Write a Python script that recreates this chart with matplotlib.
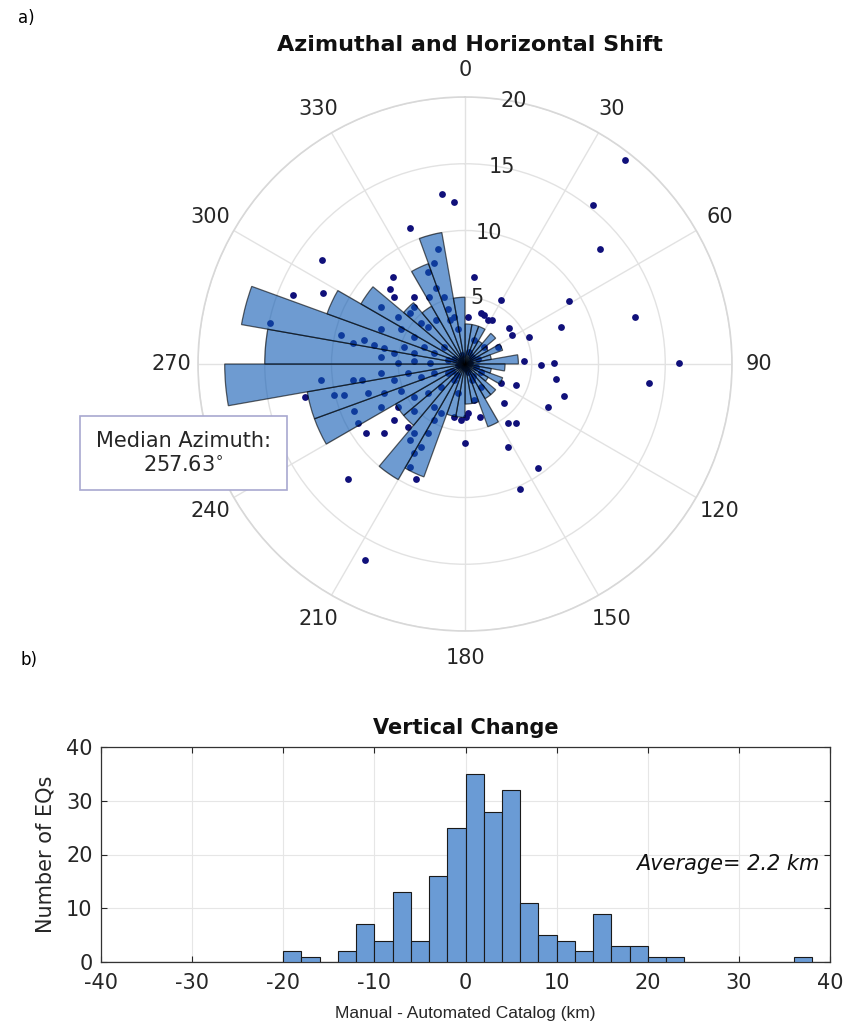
import numpy as np
import matplotlib
matplotlib.use("Agg")
import matplotlib.pyplot as plt
from matplotlib.patches import Rectangle

plt.rcParams['font.family'] = ['DejaVu Sans']
plt.rcParams['axes.unicode_minus'] = False

# ---------------- data ----------------
# rose histogram: azimuth bins (deg, clockwise from north), 10 deg wide
rose_bin_start = list(range(0, 360, 10))
rose_counts = [3, 3, 3, 2, 3, 2, 3, 2, 4, 3,
               2, 3, 2, 3, 3, 5, 3, 3, 4, 4,
               9, 10, 6, 6, 12, 12, 18, 15, 17, 11,
               9, 6, 5, 8, 10, 5]

# horizontal shift of each event (km): east and north components
east_km = [12.0, 9.6, 10.1, 7.8, 7.2, 12.7, 16.0, 13.8, 7.4, 2.7, 1.4, 2.0, 3.3, 3.5, 4.8,
           4.4, 5.7, 6.7, 6.8, 2.7, 3.8, 2.9, 6.2, 3.2, 3.8, 1.1, 0.1, -0.8, 3.2, 0.0,
           5.5, 4.1, -7.4, -6.1, -8.8, -3.7, -7.5, -1.7, -0.8, -4.1, -10.7, -5.4, -5.6, -12.9, -10.6,
           0.7, -3.8, -3.8, -14.6, -12.0, -3.8,
           -2.0, -2.3, -2.8, -2.2, -1.6, -1.3, -2.7, -1.1, -5.3, -6.3, -5.0, -4.1, -3.3, -6.3, -4.8,
           -3.8, -2.8, -2.2, -0.8, -0.5, -9.3, -8.4, -7.6, -6.8, -6.1, -5.3, -4.6, -3.8, -3.1, -2.3,
           -1.6, -6.3, -5.0, -3.8, -2.6, -1.3, -10.8, -8.4, -7.7, -6.3, -5.3, -4.3, -3.3, -2.3, -1.3,
           -9.8, -9.1, -7.3, -6.1, -4.8, -3.8, -2.8, -1.8, -8.3, -6.3, -5.0, -3.8, -2.3, -8.0, -5.3,
           -4.3, -4.1, -3.8, -4.1, -2.8, -2.3, -1.8, -3.3, 0.2, 1.2, 1.7, 0.7, 1.4, 2.5, 0.5,
           1.2, 0.7, 0.2, -0.3, -0.5, -0.8, -0.1,
           -0.3, 0.4, 0.1, 0.5, -0.5, 0.2, -0.2, 0.8, -0.8, 0.3, 1.0, -1.0, 0.6, -0.6, 1.2]
north_km = [15.3, 11.9, 8.6, 4.7, 2.8, 3.5, 0.1, -1.4, -2.4, 4.8, 3.7, 3.3, 2.7, 2.2, 2.0,
            0.2, -0.1, 0.1, -1.1, -1.4, -1.6, -2.9, -3.2, -4.4, -4.4, -4.0, -4.0, -4.0, -6.2, -5.9,
            -7.8, -9.4, -5.2, -5.2, -8.6, -8.6, -14.7, 12.7, 12.1, 10.2, 7.8, 6.5, 5.6, 5.2, 5.3,
            6.5, 5.0, 4.3, 3.1, -2.5, -5.2,
            8.6, 7.6, 6.9, 5.7, 5.0, 4.1, 5.0, 3.3, 5.0, 4.3, 3.5, 3.8, 3.1, 2.6, 2.6,
            2.0, 2.8, 3.3, 3.5, 2.6, 2.2, 1.6, 1.8, 1.4, 1.2, 0.8, 1.3, 0.8, 1.3, 0.8,
            1.3, 0.5, 0.1, 0.2, 0.1, 0.3, -1.2, -1.2, -1.2, -0.7, -1.2, -0.7, -1.0, -0.7, -0.7,
            -2.3, -2.3, -2.2, -2.2, -2.0, -2.5, -2.2, -1.7, -3.5, -3.2, -3.2, -3.5, -3.2, -4.4, -4.2,
            -4.7, -5.7, -6.7, -7.7, -5.2, -4.2, -3.7, -6.2, 3.5, 3.8, 3.3, 1.8, 1.3, 1.3, -1.2,
            -1.7, -2.7, -3.7, -4.2, -2.2, -1.2, -0.2,
            0.3, 0.1, -0.4, 0.5, -0.1, -0.6, 0.7, -0.2, 0.4, 0.9, 0.4, -0.5, -0.9, -0.8, -0.6]
median_azimuth = 257.63

r_ticks = [5, 10, 15, 20]
theta_ticks = list(range(0, 360, 30))

# vertical change histogram (km), 2 km bins
vc_edges = list(range(-40, 42, 2))
vc_counts = [0] * 10 + [2, 1, 0, 2, 7, 4, 13, 4, 16, 25,
                        35, 28, 32, 11, 5, 4, 2, 9, 3, 3,
                        1, 1, 0, 0, 0, 0, 0, 0, 1, 0]
average_vc = 2.2

# ---------------- figure ----------------
W, H = 847, 1036
fig = plt.figure(figsize=(W / 100, H / 100), dpi=100)
TXT = '#262626'

# polar rose
cx, cy, R = 465, 364, 267
axp = fig.add_axes([(cx - R) / W, 1 - (cy + R) / H, 2 * R / W, 2 * R / H], projection='polar')
axp.set_theta_zero_location('N')
axp.set_theta_direction(-1)

e = np.array(east_km)
n = np.array(north_km)
az = np.arctan2(e, n)
rr = np.hypot(e, n)
axp.scatter(az, rr, s=24, color='#10107a', zorder=2, linewidths=0)

theta_c = np.deg2rad(np.array(rose_bin_start) + 5)
axp.bar(theta_c, rose_counts, width=np.deg2rad(10), bottom=0,
        color=(0.05, 0.35, 0.70), alpha=0.6, edgecolor='black', linewidth=0.9, zorder=3)

axp.set_ylim(0, 20)
axp.set_yticks(r_ticks)
axp.set_yticklabels([])
for rv in r_ticks:
    axp.text(np.deg2rad(10.5), rv, str(rv), ha='center', va='center', fontsize=15,
             color=TXT, zorder=5)
axp.set_xticks(np.deg2rad(theta_ticks))
axp.set_xticklabels([str(a) for a in theta_ticks], fontsize=15, color=TXT)
axp.tick_params(axis='x', pad=9)
axp.grid(True, color='#e2e2e2', linewidth=1.0)
axp.spines['polar'].set_color('#d8d8d8')
axp.spines['polar'].set_linewidth(1.2)
axp.set_axisbelow(True)

fig.text(470 / W, 1 - 45 / H, 'Azimuthal and Horizontal Shift', ha='center', va='center',
         fontsize=16, fontweight='bold', color='#111111')
fig.text(18 / W, 1 - 18 / H, 'a)', ha='left', va='center', fontsize=12)

# median azimuth box
bx0, bx1, by0, by1 = 80, 287, 416, 490
fig.patches.append(Rectangle((bx0 / W, 1 - by1 / H), (bx1 - bx0) / W, (by1 - by0) / H,
                             transform=fig.transFigure, facecolor='white',
                             edgecolor='#a8a8d0', linewidth=1.2, zorder=10))
fig.text((bx0 + bx1) / 2 / W, 1 - (by0 + by1) / 2 / H,
         'Median Azimuth:\n%.2f$^{\\circ}$' % median_azimuth,
         ha='center', va='center', fontsize=15, linespacing=1.25, color=TXT, zorder=11)

# vertical change histogram
hl, hr, ht, hb = 101, 830, 747, 962
axh = fig.add_axes([hl / W, 1 - hb / H, (hr - hl) / W, (hb - ht) / H])
centers = np.array(vc_edges[:-1]) + 1
axh.hist(centers, bins=vc_edges, weights=vc_counts, color='#6a9bd5',
         edgecolor='#1a1a1a', linewidth=0.8, zorder=3)
axh.set_xlim(-40, 40)
axh.set_ylim(0, 40)
axh.set_xticks(range(-40, 41, 10))
axh.set_yticks(range(0, 41, 10))
axh.tick_params(direction='in', top=True, right=True, labelsize=15, length=4, colors=TXT)
axh.tick_params(axis='x', pad=8)
axh.tick_params(axis='y', pad=6)
axh.grid(True, color='#e6e6e6', linewidth=0.8, zorder=0)
axh.set_axisbelow(True)
for s in axh.spines.values():
    s.set_color('#333333')
    s.set_linewidth(0.9)
axh.text(0.5, 1 + (ht - 728) / (hb - ht), 'Vertical Change', transform=axh.transAxes,
         ha='center', va='center', fontsize=15, fontweight='bold', color='#111111')
axh.set_ylabel('Number of EQs', fontsize=15, color=TXT)
axh.yaxis.set_label_coords(-(hl - 56) / (hr - hl), 0.5)
axh.set_xlabel('Manual - Automated Catalog (km)', fontsize=12.5, color=TXT,
               family=['Liberation Sans', 'DejaVu Sans'])
axh.xaxis.set_label_coords(0.5, -(1006 - hb) / (hb - ht))
axh.text(38.8, 18.2, 'Average= %.1f km' % average_vc, ha='right', va='center',
         fontsize=15, style='italic', color='#111111')
fig.text(20 / W, 1 - 660 / H, 'b)', ha='left', va='center', fontsize=12)

fig.savefig('out.png', dpi=100)
